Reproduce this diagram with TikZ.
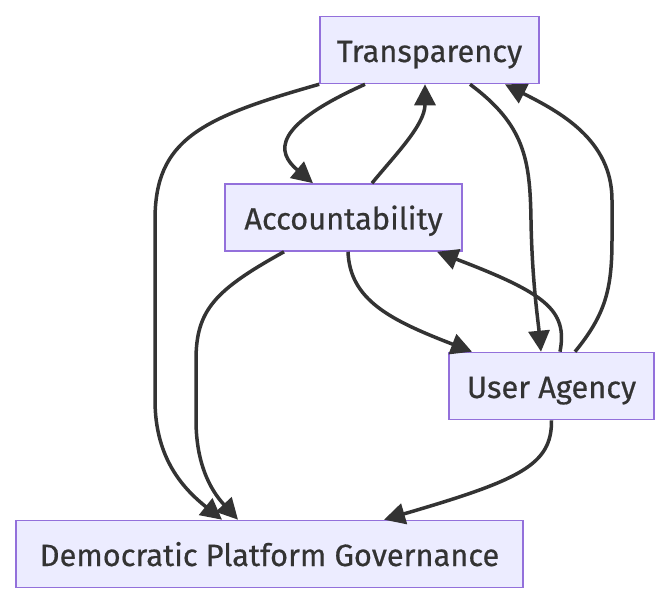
\documentclass[tikz,border=0pt]{standalone}
\usepackage{fontspec}
\setmainfont{Fira Sans}
\newfontfamily\nodefont{Fira Sans}[FakeBold=0.5]
\usepackage{tikz}
\usetikzlibrary{calc,arrows.meta}

\definecolor{nodefill}{HTML}{ECECFF}
\definecolor{nodeline}{HTML}{9370DB}
\definecolor{edgegrey}{HTML}{333333}

\begin{document}
\begin{tikzpicture}[x=1pt,y=-1pt]

\tikzset{flownode/.style={draw=nodeline,fill=nodefill,line width=1.6pt,minimum height=67pt,inner sep=0pt,text height=24pt,text depth=0pt,text=edgegrey,font=\nodefont\fontsize{30.8}{36}\selectfont},
flowedge/.style={draw=edgegrey,line width=3.5pt,-{Triangle[length=21pt,width=21pt]}}}

\useasboundingbox (0,0) rectangle (670,604);

% Nodes
\node (trans) [flownode,minimum width=219pt] at (429.5,50) {Transparency};
\node (acct) [flownode,minimum width=237pt] at (343.5,217.5) {Accountability};
\node (agency) [flownode,minimum width=205pt] at (551.5,386) {User Agency};
\node (gov) [flownode,minimum width=507pt] at (269.5,554) {Democratic Platform Governance};

%% Edges
% Transparency <-> Accountability
\draw[flowedge] ($(trans.south)+(-64.5,0)$) .. controls (272,126) and (276,152) .. ($(acct.north)+(-30.5,0)$);
\draw[flowedge] ($(acct.north)+(28.5,0)$) .. controls (395,155) and (425,125) .. ($(trans.south)+(-4.5,0)$);

% Transparency <-> User Agency
\draw[flowedge] ($(trans.south)+(40.5,0)$) .. controls (525,125) and (530,160) .. (531,220) .. controls (532,280) and (538,320) .. ($(agency.north)+(-10.5,0)$);
\draw[flowedge] ($(agency.north)+(23.5,0)$) .. controls (605,315) and (612,290) .. (612,240) -- (612,200) .. controls (612,140) and (560,112) .. ($(trans.south)+(75.5,0)$);

% Accountability <-> User Agency
\draw[flowedge] ($(acct.south)+(4.5,0)$) .. controls (350,300) and (390,320) .. ($(agency.north)+(-79.5,0)$);
\draw[flowedge] ($(agency.north)+(8.5,0)$) .. controls (568,310) and (545,293) .. ($(acct.south)+(93.5,0)$);

% into the governance node
\draw[flowedge] (trans.south west) .. controls (200,118) and (155,140) .. (155,220) -- (155,400) .. controls (155,460) and (185,490) .. ($(gov.north)+(-47.5,0)$);
\draw[flowedge] ($(acct.south)+(-59.5,0)$) .. controls (215,290) and (196,310) .. (196,360) -- (196,420) .. controls (196,470) and (215,495) .. ($(gov.north)+(-31.5,0)$);
\draw[flowedge] (agency.south) .. controls (552,465) and (520,480) .. ($(gov.north)+(114.5,0)$);
\end{tikzpicture}
\end{document}
